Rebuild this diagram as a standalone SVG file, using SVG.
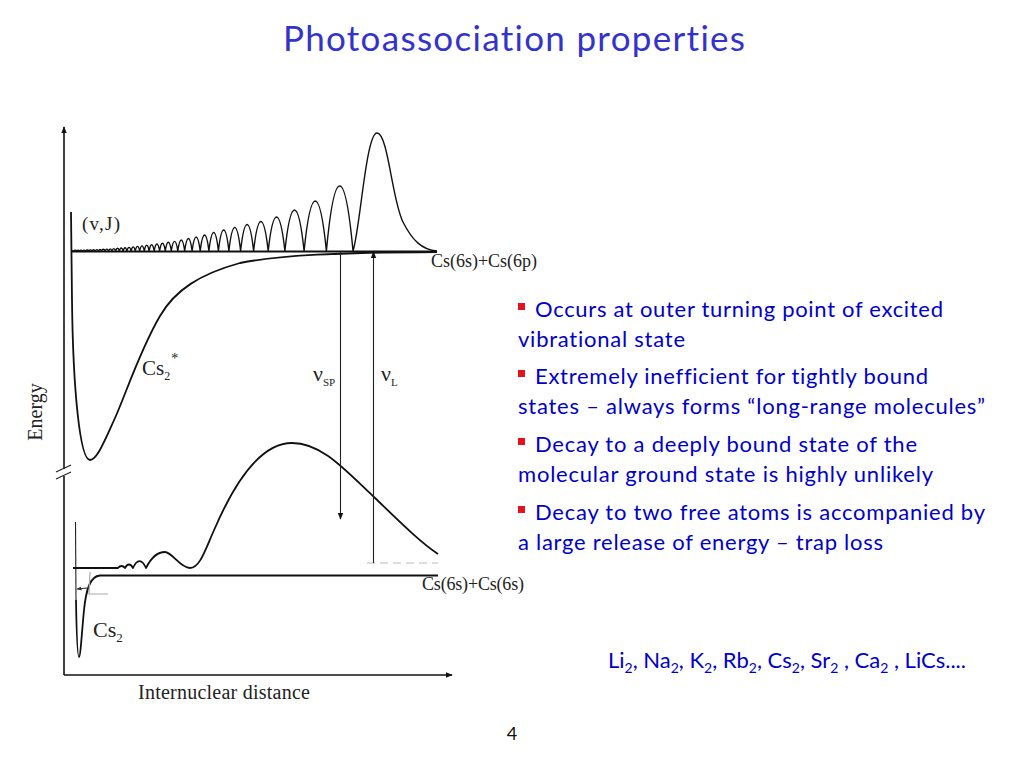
<svg xmlns="http://www.w3.org/2000/svg" width="1024" height="768" viewBox="0 0 1024 768">
<style>
.ax{stroke:#111;stroke-width:1.6;fill:none}
.curve{stroke:#111;stroke-width:1.8;fill:none;stroke-linejoin:round}
.wave{stroke:#111;stroke-width:1.4;fill:none;stroke-linejoin:round}
.thin{stroke:#222;stroke-width:1.1;fill:none}
.gray{stroke:#aaa;stroke-width:1.2;fill:none}
.serif{font-family:"Liberation Serif","Times New Roman",serif;fill:#222}
.blue{font-family:Lato,"Open Sans",sans-serif;fill:#0000CC;font-size:22px;font-variant-ligatures:none}
.bul{fill:#E8101C}
</style>
<defs>
<marker id="arr" viewBox="0 0 10 10" refX="9" refY="5" markerWidth="7" markerHeight="7" orient="auto" markerUnits="userSpaceOnUse">
<path d="M0,1 L10,5 L0,9 Z" fill="#111"/>
</marker>
<marker id="arrS" viewBox="0 0 10 10" refX="9" refY="5" markerWidth="5" markerHeight="5" orient="auto" markerUnits="userSpaceOnUse">
<path d="M0,1 L10,5 L0,9 Z" fill="#333"/>
</marker>
</defs>
<rect width="1024" height="768" fill="#fff"/>

<g id="title">
<text x="514" y="51" text-anchor="middle" font-family="Lato,'Open Sans',sans-serif" font-size="35" fill="#3333CC" style="font-variant-ligatures:none" textLength="462">Photoassociation properties</text>
</g>

<g id="axes">
<line class="ax" x1="64" y1="469" x2="64" y2="127" marker-end="url(#arr)"/>
<line class="ax" x1="64" y1="476" x2="64" y2="675"/>
<line class="ax" x1="64" y1="675" x2="452" y2="675" marker-end="url(#arr)"/>
<line class="thin" x1="56" y1="472" x2="71" y2="465"/>
<line class="thin" x1="56" y1="479" x2="71" y2="472"/>
<text class="serif" font-size="20" transform="translate(42,412) rotate(-90)" text-anchor="middle">Energy</text>
<text class="serif" x="138" y="699" font-size="20" textLength="172">Internuclear distance</text>
</g>

<g id="excited-potential">
<line x1="72" y1="251.5" x2="437" y2="251.5" stroke="#111" stroke-width="2"/>
<path class="curve" d="M71,212 L72,300 C73,390 80,460 90,460 C97,460 105,440 115,418 C125,396 140,350 160,316 C175,290 200,274 240,263 C280,255 340,252.5 437,252"/>
<text class="serif" x="431" y="267" font-size="18" textLength="106">Cs(6s)+Cs(6p)</text>
<text class="serif" x="142" y="375" font-size="21">Cs<tspan font-size="12" dy="5">2</tspan><tspan font-size="14" dx="1" dy="-17">*</tspan></text>
</g>

<g id="excited-wavefunction">
<path class="wave" d="M72,251 L73.7,251 C74.6,250.2 75.8,250.2 76.7,251 C77.6,250.1 78.8,250.1 79.7,251 C80.6,249.9 81.8,249.9 82.7,251 C83.6,249.8 84.9,249.8 85.8,251 C86.7,249.7 88,249.7 88.9,251 C89.8,249.5 91.1,249.5 92,251 C93,249.4 94.2,249.4 95.2,251 C96.2,249.1 97.4,249.1 98.4,251 C99.4,249 100.7,249 101.7,251 C102.7,248.7 104.1,248.7 105.1,251 C106.1,248.5 107.5,248.5 108.5,251 C109.6,248.2 111,248.2 112,251 C113.1,247.8 114.5,247.8 115.6,251 C116.7,247.4 118.2,247.4 119.3,251 C120.4,247 122,247 123.1,251 C124.3,246.6 125.8,246.6 127,251 C128.2,246.1 129.9,246.1 131.1,251 C132.4,245.5 134,245.5 135.3,251 C136.6,244.9 138.4,244.9 139.7,251 C141.1,244.2 142.9,244.2 144.3,251 C145.7,243.4 147.7,243.4 149.1,251 C150.6,242.6 152.7,242.6 154.2,251 C155.8,241.7 158,241.7 159.6,251 C161.3,240.6 163.6,240.6 165.3,251 C167.1,239.4 169.5,239.4 171.3,251 C173.3,238.1 175.9,238.1 177.8,251 C179.9,236.3 182.6,236.3 184.7,251 C186.9,234.3 189.9,234.3 192.1,251 C194.5,232.3 197.8,232.3 200.2,251 C202.8,229.7 206.3,229.7 208.9,251 C211.8,226.3 215.6,226.3 218.4,251 C221.6,223 225.8,223 228.9,251 C232.4,219.7 237.1,219.7 240.6,251 C244.5,215.7 249.7,215.7 253.6,251 C258,211.7 263.8,211.7 268.2,251 C273.2,205.7 279.9,205.7 284.9,251 C290.7,196.3 298.3,196.3 304.1,251 C310.8,184.3 319.7,184.3 326.4,251 C334.4,164.3 345,164.3 353,251 C360,230 366,133 377,133 C388,133 392,200 403,222 C412,240 422,250 437,251"/>
<text class="serif" x="82" y="230" font-size="19" textLength="38">(v,J)</text>
</g>

<g id="ground-potential">
<path class="thin" d="M75.5,522 L76,600"/>
<path class="curve" d="M76,600 C76.5,630 77.5,657 79,657 C80.5,657 82,630 84,610 C86,590 90,576 100,575.5 L438,575.5"/>
<path class="gray" d="M90,572 L89,594 L108,594"/>
<line class="thin" x1="87" y1="588" x2="77" y2="589" marker-end="url(#arrS)"/>
<text class="serif" x="422" y="590" font-size="18" textLength="102">Cs(6s)+Cs(6s)</text>
<text class="serif" x="93" y="637" font-size="22">Cs<tspan font-size="13" dy="5">2</tspan></text>
</g>

<g id="ground-wavefunction">
<path class="curve" d="M73,568 L118,568 C120.1,565.3 122.9,565.3 125,568 C127.4,563.3 130.6,563.3 133,568 C136.9,558.7 142.1,558.7 146,568 C152,556 158,552 165,552 C172,552 180,568 190,568 C200,568 205,550 215,528 C228,498 255,443 292,443 C322,443 345,470 375,498 C400,522 420,542 438,554"/>
<line x1="367" y1="563" x2="438" y2="563" stroke="#bbb" stroke-width="1.2" stroke-dasharray="8,5"/>
</g>

<g id="connectors">
<line class="thin" x1="340.5" y1="252" x2="340.5" y2="519" stroke-width="1.3" marker-end="url(#arr)"/>
<line class="thin" x1="373.5" y1="563" x2="373.5" y2="252" stroke-width="1.3" marker-end="url(#arr)"/>
<text class="serif" x="313" y="381" font-size="22">ν<tspan font-size="11" dy="5">SP</tspan></text>
<text class="serif" x="381" y="381" font-size="22">ν<tspan font-size="11" dy="5">L</tspan></text>
</g>

<g id="bullets">
<rect class="bul" x="518" y="303" width="7" height="7"/>
<text class="blue" x="535" y="317" textLength="408">Occurs at outer turning point of excited</text>
<text class="blue" x="518" y="347" textLength="167">vibrational state</text>
<rect class="bul" x="518" y="370" width="7" height="7"/>
<text class="blue" x="535" y="384" textLength="393">Extremely inefficient for tightly bound</text>
<text class="blue" x="518" y="414" textLength="467">states – always forms “long-range molecules”</text>
<rect class="bul" x="518" y="438" width="7" height="7"/>
<text class="blue" x="535" y="452" textLength="382">Decay to a deeply bound state of the</text>
<text class="blue" x="518" y="482" textLength="415">molecular ground state is highly unlikely</text>
<rect class="bul" x="518" y="506" width="7" height="7"/>
<text class="blue" x="535" y="520" textLength="450">Decay to two free atoms is accompanied by</text>
<text class="blue" x="518" y="550" textLength="365">a large release of energy – trap loss</text>
</g>

<g id="molecules">
<text class="blue" x="608" y="668">Li<tspan font-size="14" dy="5">2</tspan><tspan dy="-5">, Na</tspan><tspan font-size="14" dy="5">2</tspan><tspan dy="-5">, K</tspan><tspan font-size="14" dy="5">2</tspan><tspan dy="-5">, Rb</tspan><tspan font-size="14" dy="5">2</tspan><tspan dy="-5">, Cs</tspan><tspan font-size="14" dy="5">2</tspan><tspan dy="-5">, Sr</tspan><tspan font-size="14" dy="5">2</tspan><tspan dy="-5"> , Ca</tspan><tspan font-size="14" dy="5">2</tspan><tspan dy="-5"> , LiCs....</tspan></text>
</g>

<g id="page-number">
<text x="512" y="740" text-anchor="middle" font-family="Lato,'Open Sans',sans-serif" font-size="18" fill="#111">4</text>
</g>
</svg>
